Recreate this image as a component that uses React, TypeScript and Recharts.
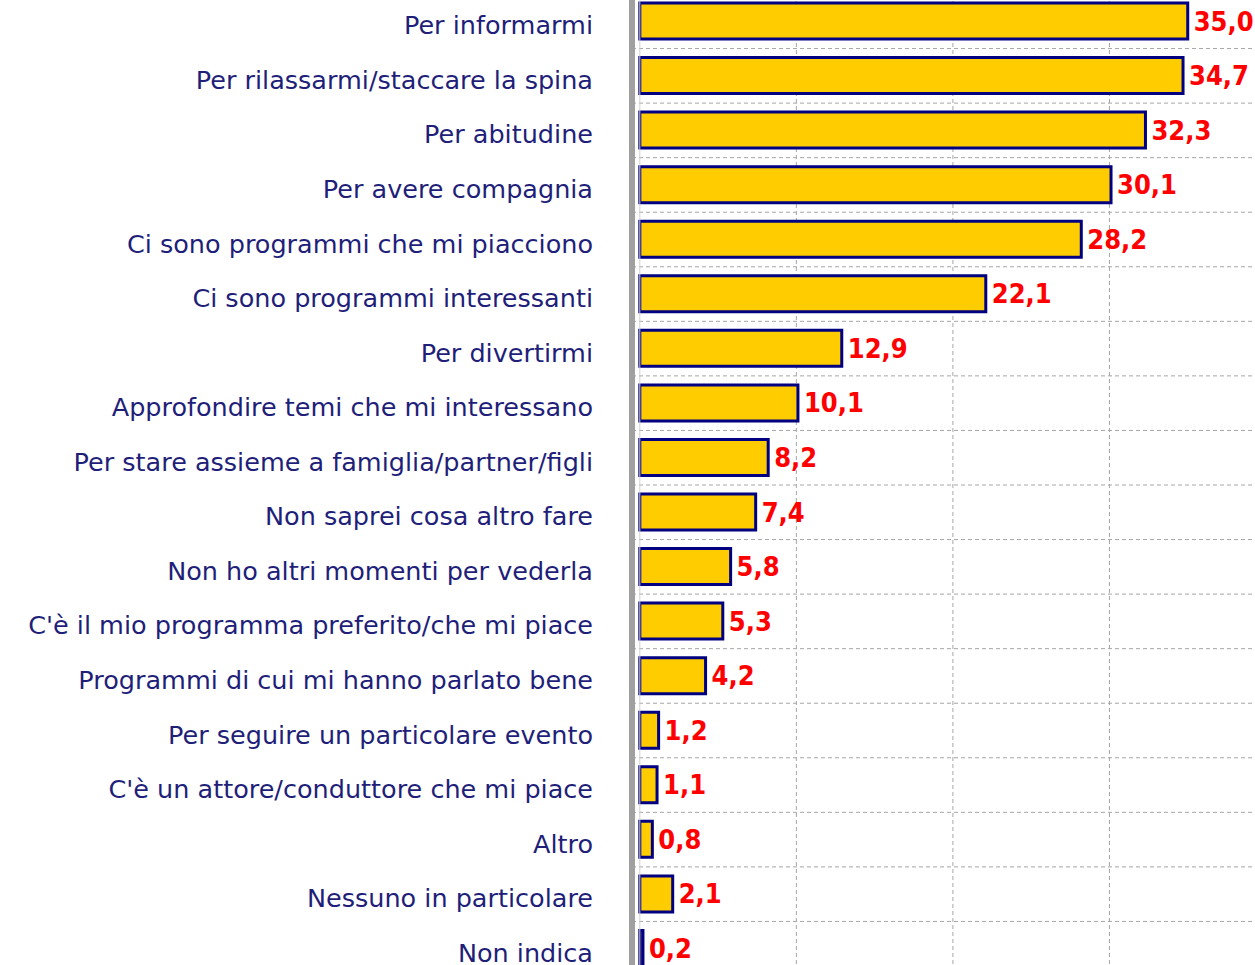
import { BarChart, Bar, XAxis, YAxis, CartesianGrid, LabelList, ReferenceLine } from 'recharts';

const reasons = [
  'Per informarmi',
  'Per rilassarmi/staccare la spina',
  'Per abitudine',
  'Per avere compagnia',
  'Ci sono programmi che mi piacciono',
  'Ci sono programmi interessanti',
  'Per divertirmi',
  'Approfondire temi che mi  interessano',
  'Per stare assieme a famiglia/partner/figli',
  'Non saprei cosa altro fare',
  'Non ho altri momenti per vederla',
  "C'è il mio programma preferito/che mi piace",
  'Programmi di cui mi hanno parlato bene',
  'Per seguire un particolare evento',
  "C'è un attore/conduttore che mi piace",
  'Altro',
  'Nessuno in particolare',
  'Non indica',
];

const percentages = [35.0, 34.7, 32.3, 30.1, 28.2, 22.1, 12.9, 10.1, 8.2, 7.4, 5.8, 5.3, 4.2, 1.2, 1.1, 0.8, 2.1, 0.2];

const xTicks = [10, 20, 30, 40];

const data = reasons.map((reason, i) => ({ reason, value: percentages[i] }));

const fmt = (v: number) => v.toFixed(1).replace('.', ',');

// horizontal dashed lines sit between the categories, not at their centres
function bandEdges(props: any) {
  const { offset } = props;
  const n = reasons.length;
  const step = offset.height / n;
  const out: number[] = [];
  for (let i = 0; i <= n; i++) out.push(offset.top + i * step);
  return out;
}

export default function App() {
  return (
    <div
      style={{
        position: 'absolute',
        left: 0,
        top: 0,
        width: 1255,
        height: 965,
        overflow: 'hidden',
        background: '#fff',
      }}
    >
      <div style={{ position: 'absolute', left: 0, top: -6 }}>
        <BarChart
          width={1300}
          height={983}
          data={data}
          layout="vertical"
          margin={{ top: 0, right: 34, bottom: 1, left: 0 }}
          barSize={36}
        >
          <CartesianGrid
            stroke="#a6a6a6"
            strokeDasharray="4 3"
            horizontalCoordinatesGenerator={bandEdges}
          />
          <XAxis type="number" domain={[-0.5, 40]} ticks={xTicks} hide />
          <YAxis
            type="category"
            dataKey="reason"
            width={632}
            tickSize={0}
            tickLine={false}
            tickMargin={39}
            axisLine={{ stroke: '#a0a0a0', strokeWidth: 6 }}
            interval={0}
            tick={{ fill: '#1f1f7a', fontSize: 25.5, fontFamily: 'DejaVu Sans', dy: 4 }}
          />
          <ReferenceLine x={0} stroke="#d0d0d0" strokeWidth={1} />
          <Bar dataKey="value" fill="#ffcc00" stroke="#000080" strokeWidth={3} isAnimationActive={false}>
            <LabelList
              dataKey="value"
              position="right"
              offset={6}
              formatter={(v: any) => fmt(Number(v))}
              style={{
                fill: '#ff0000',
                fontWeight: 'bold',
                fontSize: 27,
                fontFamily: "'DejaVu Sans Condensed', 'DejaVu Sans'",
                fontStretch: 'condensed',
              }}
            />
          </Bar>
        </BarChart>
      </div>
    </div>
  );
}
